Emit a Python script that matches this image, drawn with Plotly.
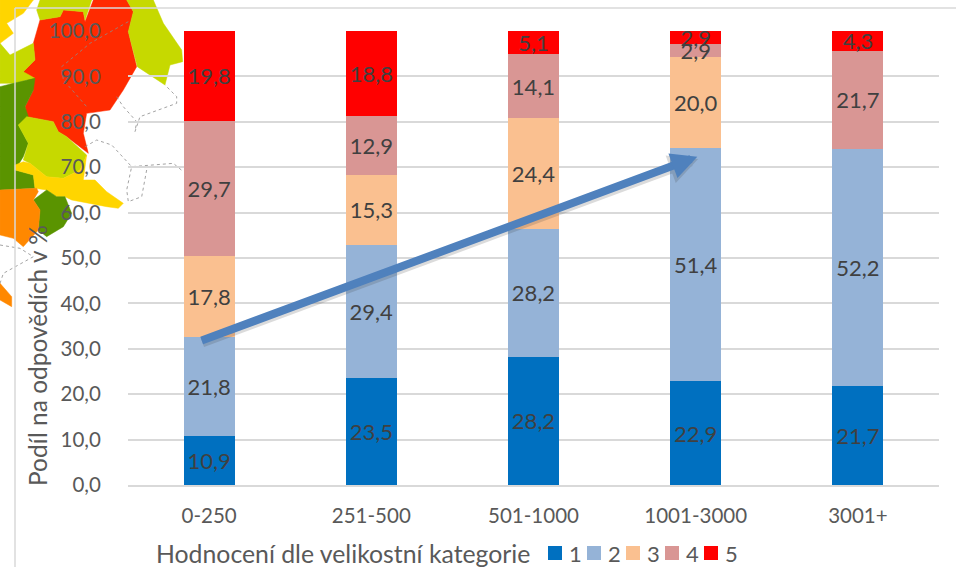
import plotly.graph_objects as go

categories = ["0-250", "251-500", "501-1000", "1001-3000", "3001+"]
s1 = [10.9, 23.5, 28.2, 22.9, 21.7]
s2 = [21.8, 29.4, 28.2, 51.4, 52.2]
s3 = [17.8, 15.3, 24.4, 20.0, None]
s4 = [29.7, 12.9, 14.1, 2.9, 21.7]
s5 = [19.8, 18.8, 5.1, 2.9, 4.3]
series = [("1", s1, "#0070C0"), ("2", s2, "#95B3D7"), ("3", s3, "#FAC090"),
          ("4", s4, "#D99694"), ("5", s5, "#FF0000")]

W, H = 956, 567
L, R, T, B = 128, 939, 31, 485
FONT = "Lato"

def px(x): return (x - L) / (R - L)
def py(y): return (B - y) / (B - T)

# decorative background map, outlines (zoom px = 3 x image px)
MAP = [
 ("#FF2A00", [(280,0),(380,0),(400,35),(385,95),(410,200),(370,270),(330,330),(260,340),(250,400),(265,460),(200,410),(175,395),(160,365),(80,350),(75,320),(100,270),(70,215),(105,180),(100,130),(120,60),(180,50),(190,30),(250,35),(255,65)]),
 ("#C6D900", [(380,0),(460,0),(490,70),(545,150),(548,185),(510,195),(495,255),(412,200),(385,95),(400,35)]),
 ("#C6D900", [(120,0),(275,0),(255,60),(250,35),(190,30),(180,50),(120,60),(110,30)]),
 ("#C6D900", [(0,130),(30,165),(100,130),(105,180),(70,215),(105,235),(40,250),(0,250)]),
 ("#FFD500", [(0,0),(100,0),(70,40),(20,70),(40,100),(0,130)]),
 ("#5A9400", [(0,260),(40,250),(105,235),(100,270),(75,320),(85,350),(55,375),(85,430),(70,470),(45,510),(100,525),(105,565),(0,570)]),
 ("#C6D900", [(55,375),(80,350),(160,365),(175,395),(200,410),(260,465),(240,510),(190,535),(140,530),(90,490),(70,480),(85,430)]),
 ("#FFD500", [(45,495),(70,485),(90,490),(140,530),(190,535),(240,510),(260,465),(250,540),(285,540),(320,575),(370,610),(355,625),(320,620),(215,600),(195,590),(170,590),(140,570),(105,565),(100,525),(45,510)]),
 ("#5A9400", [(100,600),(140,570),(170,590),(195,590),(215,640),(190,680),(140,710),(115,690),(120,630)]),
 ("#FF8800", [(0,570),(110,565),(115,575),(100,600),(120,630),(115,690),(70,740),(40,715),(0,705)]),
 ("#FF8800", [(0,850),(35,890),(35,920),(0,900)]),
]
BORDERS = [
 [(350,290),(370,320),(410,365),(405,395),(420,350),(530,310),(530,290),(495,255)],
 [(255,440),(290,420),(335,435),(395,500),(520,490),(550,515)],
 [(440,510),(425,590),(385,605),(380,570),(395,500)],
 [(385,65),(270,130),(185,200),(190,240),(260,320)],
 [(0,735),(60,745),(100,770),(10,820),(0,850)],
]

def path(pts, close=True):
    d = "M" + " L".join(f"{px(x/3):.4f},{py(y/3):.4f}" for x, y in pts)
    return d + (" Z" if close else "")

shapes = [dict(type="path", xref="paper", yref="paper", layer="below", path=path(p),
               fillcolor=c, line=dict(color=c, width=0.5)) for c, p in MAP]
shapes += [dict(type="path", xref="paper", yref="paper", layer="below", path=path(p, False),
                line=dict(color="#8C8C8C", width=0.8, dash="dot")) for p in BORDERS]
# chart frame
shapes += [dict(type="line", xref="paper", yref="paper", layer="below",
                x0=px(15), x1=px(15), y0=py(8), y1=py(567), line=dict(color="#D9D9D9", width=1.5)),
           dict(type="line", xref="paper", yref="paper", layer="below",
                x0=px(15), x1=px(956), y0=py(8), y1=py(8), line=dict(color="#D9D9D9", width=1.5))]

fig = go.Figure()
for name, vals, col in series:
    fig.add_trace(go.Bar(name=name, x=categories, y=vals, marker=dict(color=col, line_width=0),
                         texttemplate="%{y:.1f}", textposition="inside", insidetextanchor="middle",
                         textangle=0, constraintext="none", showlegend=False,
                         textfont=dict(family=FONT, size=22, color="#404040")))

annotations = [
 dict(xref="paper", yref="paper", x=px(37), y=py(356), xanchor="center", yanchor="middle",
      text="Podíl na odpovědích v %", textangle=-90,
      showarrow=False, font=dict(family=FONT, size=24.5, color="#595959")),
 dict(xref="paper", yref="paper", x=px(343), y=py(553), xanchor="center", yanchor="middle",
      text="Hodnocení dle velikostní kategorie",
      showarrow=False, font=dict(family=FONT, size=24.8, color="#595959")),
 # trend arrow shadow + arrow
 dict(xref="x", yref="y", axref="x", ayref="y", x=3.015, y=71.8, ax=-0.05, ay=31.2, text="",
      showarrow=True, arrowhead=2, arrowsize=0.65, arrowwidth=9, arrowcolor="rgba(60,60,60,0.18)"),
 dict(xref="x", yref="y", axref="x", ayref="y", x=3.01, y=72.3, ax=-0.055, ay=31.7, text="",
      showarrow=True, arrowhead=2, arrowsize=0.65, arrowwidth=8, arrowcolor="#4F81BD"),
]

# legend row, spaced as tightly as the reference's
for i, (name, _, col) in enumerate(series):
    x0 = 548 + 39 * i
    shapes.append(dict(type="rect", xref="paper", yref="paper", x0=px(x0), x1=px(x0 + 14),
                       y0=py(546), y1=py(560), fillcolor=col, line_width=0))
    annotations.append(dict(xref="paper", yref="paper", x=px(x0 + 19), y=py(553), xanchor="left",
                            yanchor="middle", text=name, showarrow=False,
                            font=dict(family=FONT, size=22, color="#595959")))

fig.update_layout(
    width=W, height=H, barmode="stack", barnorm="percent", bargap=0.685, separators=",.",
    margin=dict(l=L, r=W-R, t=T, b=H-B, pad=0), showlegend=False,
    paper_bgcolor="white", plot_bgcolor="rgba(0,0,0,0)",
    shapes=shapes, annotations=annotations,
    xaxis=dict(type="category", tickfont=dict(family=FONT, size=20.5, color="#595959"),
               ticks="outside", ticklen=12, tickcolor="rgba(0,0,0,0)",
               showline=True, linecolor="#D9D9D9", linewidth=1.5, showgrid=False, automargin=False),
    yaxis=dict(range=[0, 100], dtick=10, tickformat=".1f", showgrid=True, gridcolor="#D9D9D9", gridwidth=1.5,
               zeroline=False, showline=False, ticks="outside", ticklen=22, tickcolor="rgba(0,0,0,0)",
               automargin=False, tickfont=dict(family=FONT, size=20.5, color="#595959")),
)
fig.write_html("out.html", config=dict(displayModeBar=False),
               post_script="document.body.style.margin='0';document.documentElement.style.overflow='hidden';")
